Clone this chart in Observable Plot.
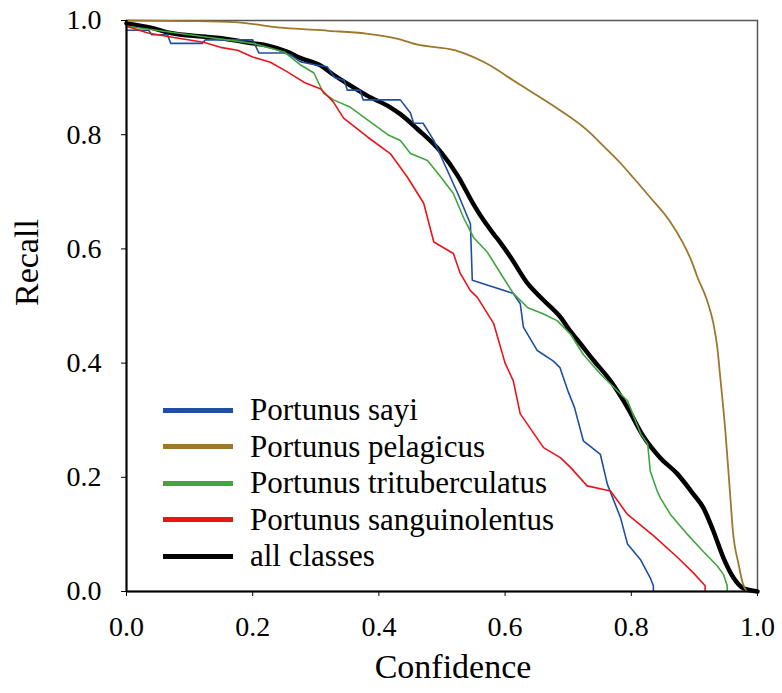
<!DOCTYPE html>
<html><head><meta charset="utf-8">
<script src="https://cdn.jsdelivr.net/npm/d3@7"></script>
<script src="https://cdn.jsdelivr.net/npm/@observablehq/plot@0.6"></script>
<style>
body{margin:0;background:#fff;}
#wrap{position:relative;width:782px;height:693px;font-family:'Liberation Serif','DejaVu Serif','Times New Roman',serif;}
#legend{position:absolute;left:163px;top:392px;}
.row{display:flex;align-items:center;height:36.5px;font-size:31px;color:#000;white-space:nowrap;}
.sw{width:70px;height:5px;margin-right:17px;}
svg text{font-family:'Liberation Serif','DejaVu Serif','Times New Roman',serif;}
</style></head><body><div id="wrap"><div id="chart"></div><div id="legend"></div></div>
<script>
const seriesNames = ["Portunus sayi","Portunus pelagicus","Portunus trituberculatus","Portunus sanguinolentus","all classes"];
const seriesColors = ["#1f4f9f","#9e762c","#3fa53f","#e8141c","#000000"];
const xTicks = [0,0.2,0.4,0.6,0.8,1.0];
const yTicks = [0,0.2,0.4,0.6,0.8,1.0];

const sayiX = [0,0.035,0.04,0.065,0.07,0.12,0.125,0.2,0.21,0.25,0.26,0.275,0.3,0.318,0.33,0.345,0.35,0.37,0.375,0.434,0.45,0.455,0.47,0.487,0.525,0.545,0.548,0.613,0.624,0.629,0.651,0.676,0.687,0.7,0.71,0.724,0.751,0.762,0.783,0.794,0.815,0.83,0.835,0.835];
const sayiY = [0.983,0.983,0.975,0.975,0.96,0.96,0.966,0.966,0.943,0.943,0.94,0.928,0.922,0.919,0.9,0.895,0.878,0.878,0.861,0.861,0.838,0.82,0.82,0.79,0.697,0.644,0.545,0.522,0.504,0.463,0.422,0.404,0.392,0.35,0.322,0.264,0.24,0.188,0.129,0.083,0.055,0.024,0.01,0];

const pelagicusX = [0,0.1,0.17,0.25,0.32,0.38,0.43,0.46,0.52,0.57,0.62,0.68,0.73,0.756,0.783,0.803,0.83,0.86,0.882,0.895,0.905,0.92,0.93,0.936,0.941,0.949,0.957,0.961,0.97,0.977,0.983];
const pelagicusY = [1.0,0.999,0.997,0.987,0.982,0.977,0.968,0.958,0.948,0.925,0.89,0.848,0.808,0.78,0.75,0.725,0.69,0.65,0.61,0.58,0.55,0.51,0.47,0.43,0.375,0.282,0.164,0.106,0.048,0.013,0];

const tritX = [0,0.1,0.2,0.25,0.276,0.297,0.312,0.328,0.355,0.382,0.414,0.434,0.45,0.477,0.498,0.518,0.534,0.55,0.572,0.593,0.613,0.636,0.661,0.683,0.704,0.724,0.751,0.794,0.815,0.826,0.83,0.841,0.846,0.862,0.889,0.914,0.936,0.946,0.952,0.952];
const tritY = [0.99,0.975,0.96,0.945,0.922,0.908,0.873,0.861,0.848,0.826,0.8,0.79,0.767,0.755,0.726,0.697,0.655,0.62,0.594,0.557,0.522,0.497,0.486,0.474,0.45,0.415,0.381,0.334,0.276,0.258,0.211,0.176,0.164,0.135,0.1,0.07,0.045,0.03,0.01,0];

const sangX = [0,0.034,0.07,0.122,0.149,0.176,0.2,0.228,0.255,0.281,0.308,0.328,0.344,0.382,0.418,0.445,0.471,0.487,0.518,0.529,0.545,0.556,0.582,0.6,0.613,0.624,0.661,0.688,0.704,0.73,0.767,0.794,0.836,0.873,0.898,0.917,0.917];
const sangY = [0.99,0.978,0.971,0.962,0.953,0.948,0.936,0.927,0.91,0.892,0.88,0.857,0.829,0.796,0.767,0.726,0.68,0.612,0.592,0.557,0.527,0.515,0.469,0.40,0.369,0.311,0.252,0.234,0.217,0.185,0.176,0.135,0.097,0.06,0.033,0.01,0];

const allX = [0,0.04,0.07,0.12,0.15,0.2,0.224,0.255,0.276,0.308,0.328,0.355,0.382,0.418,0.434,0.461,0.498,0.525,0.55,0.566,0.582,0.593,0.609,0.636,0.661,0.688,0.704,0.715,0.74,0.767,0.794,0.819,0.846,0.873,0.898,0.914,0.93,0.946,0.962,0.977,1.0];
const allY = [0.995,0.987,0.978,0.972,0.969,0.96,0.956,0.945,0.934,0.921,0.905,0.886,0.868,0.848,0.836,0.81,0.77,0.728,0.678,0.65,0.626,0.61,0.585,0.539,0.51,0.48,0.455,0.44,0.405,0.369,0.322,0.272,0.234,0.206,0.171,0.147,0.106,0.059,0.024,0.006,0];

const toRows = (name, xs, ys) => xs.map((x, i) => ({series: name, x, y: ys[i]}));
const steppy = [
  ...toRows(seriesNames[0], sayiX, sayiY),
  ...toRows(seriesNames[2], tritX, tritY),
  ...toRows(seriesNames[3], sangX, sangY)
];
const pelRows = toRows(seriesNames[1], pelagicusX, pelagicusY);
const allRows = toRows(seriesNames[4], allX, allY);
const fmt = d3.format(".1f");
const FONT = "Liberation Serif, DejaVu Serif, serif";

const chart = Plot.plot({
  width: 782, height: 693,
  marginLeft: 126, marginRight: 25, marginTop: 20, marginBottom: 102,
  style: {fontFamily: FONT, fontSize: "28px", background: "white", color: "black"},
  x: {domain: [0, 1]},
  y: {domain: [0, 1]},
  color: {domain: seriesNames, range: seriesColors},
  marks: [
    Plot.frame({stroke: "#555", strokeWidth: 1.5}),
    Plot.line(allRows, {x: "x", y: "y", stroke: "series", strokeWidth: 4.5, curve: "monotone-x", strokeLinejoin: "round"}),
    Plot.line(pelRows, {x: "x", y: "y", stroke: "series", strokeWidth: 1.8, curve: "monotone-x"}),
    Plot.line(steppy, {x: "x", y: "y", z: "series", stroke: "series", strokeWidth: 1.6}),
    Plot.ruleX([0], {stroke: "black", strokeWidth: 2}),
    Plot.ruleY([0], {stroke: "black", strokeWidth: 2}),
    Plot.axisX({ticks: xTicks, tickFormat: fmt, tickSize: 5, tickPadding: 20, fontSize: 28, label: null, stroke: "black"}),
    Plot.axisY({ticks: yTicks, tickFormat: fmt, tickSize: 5, tickPadding: 20, fontSize: 28, label: null, stroke: "black"}),
    Plot.text(["Confidence"], {frameAnchor: "bottom", dy: 86, dx: 11, fontSize: 34, fill: "black"}),
    Plot.text(["Recall"], {frameAnchor: "left", dx: -99, rotate: -90, fontSize: 34, fill: "black"})
  ]
});
document.getElementById("chart").appendChild(chart);

const legend = document.getElementById("legend");
seriesNames.forEach((n, i) => {
  const row = document.createElement("div");
  row.className = "row";
  const sw = document.createElement("div");
  sw.className = "sw";
  sw.style.background = seriesColors[i];
  const t = document.createElement("span");
  t.textContent = n;
  row.appendChild(sw); row.appendChild(t);
  legend.appendChild(row);
});
</script></body></html>
